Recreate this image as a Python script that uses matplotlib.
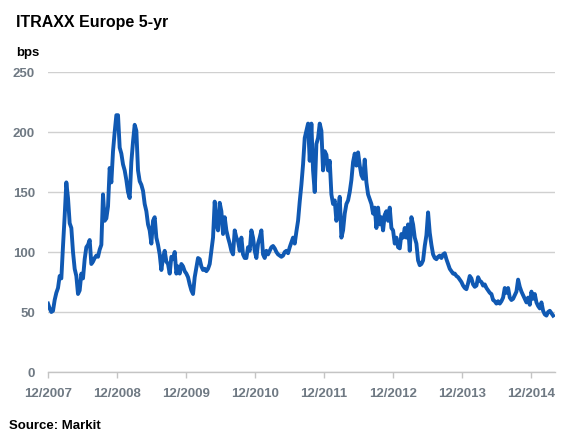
import numpy as np
import pandas as pd
import matplotlib
matplotlib.use('Agg')
from matplotlib import pyplot

# iTraxx Europe 5-yr, bps (roughly every 9 days)
spread_2007_2011 = [
    57, 53, 50, 51, 60, 66, 70, 80, 78, 105, 130, 158, 145, 124, 120, 100, 86, 80, 65, 68,
    82, 78, 94, 104, 106, 110, 90, 92, 95, 97, 96, 102, 106, 148, 126, 128, 138, 170, 158, 184,
    200, 214, 214, 187, 182, 173, 168, 160, 150, 145, 175, 192, 206, 201, 168, 159, 156, 151, 140, 134,
    123, 118, 107, 126, 129, 112, 106, 98, 85, 95, 101, 92, 90, 82, 96, 94, 100, 82, 88, 82,
    90, 88, 84, 82, 79, 73, 68, 65, 79, 87, 95, 94, 88, 85, 86, 84, 86, 90, 101, 112,
    142, 123, 118, 141, 134, 115, 129, 118, 112, 107, 101, 98, 118, 112, 109, 101, 112, 98, 95, 95,
    104, 101, 118, 112, 101, 95, 107, 112, 118, 98, 95, 101, 98, 101, 104, 105, 103, 100, 98, 97,
]
spread_2011_2015 = [
    96, 97, 100, 101, 99, 104, 108, 112, 107, 117, 126, 142, 156, 173, 195, 201, 207, 176, 207, 168,
    150, 190, 195, 207, 201, 168, 184, 181, 168, 176, 148, 140, 143, 126, 134, 146, 112, 118, 132, 140,
    143, 150, 160, 175, 182, 172, 183, 172, 164, 161, 177, 158, 148, 144, 140, 132, 137, 120, 137, 123,
    129, 118, 131, 134, 126, 137, 120, 118, 107, 112, 104, 103, 115, 112, 120, 112, 123, 101, 129, 123,
    112, 107, 93, 89, 90, 93, 105, 114, 133, 116, 106, 98, 95, 94, 96, 97, 95, 98, 99, 94,
    90, 86, 84, 82, 82, 80, 79, 77, 75, 72, 70, 69, 74, 80, 78, 73, 71, 72, 79, 76,
    75, 72, 73, 70, 68, 66, 65, 60, 59, 57, 59, 57, 59, 62, 70, 66, 70, 62, 60, 61,
    64, 67, 77, 71, 67, 64, 61, 58, 62, 56, 67, 61, 65, 58, 55, 53, 58, 51, 48, 47,
    50, 51, 49, 47,
]
tick_years = [2007, 2008, 2009, 2010, 2011, 2012, 2013, 2014]
tick_labels = ['12/%d' % y for y in tick_years]

values = spread_2007_2011 + spread_2011_2015
dates = pd.date_range('2007-12-01', '2015-03-27', periods=len(values))

gray = '#6f7983'
grid_gray = '#d0d0d0'
blue = '#1059b3'
font = 'Liberation Sans'

fig = pyplot.figure(figsize=(5.8, 4.35), dpi=100)
ax = fig.add_axes([48 / 580, 62 / 435, 507 / 580, 300 / 435])

ax.plot(dates, values, color=blue, lw=2.8, solid_joinstyle='round')

ax.set_ylim(0, 250)
ax.set_yticks(range(0, 251, 50))
ax.set_xlim(pd.Timestamp('2007-12-01'), pd.Timestamp('2015-04-06'))
ax.set_xticks([pd.Timestamp('%d-12-01' % y) for y in tick_years])
ax.set_xticklabels(tick_labels)

ax.yaxis.grid(True, color=grid_gray, lw=1)
ax.set_axisbelow(True)
for side in ['top', 'right', 'left']:
    ax.spines[side].set_visible(False)
ax.spines['bottom'].set_color('#c4c4c4')
ax.spines['bottom'].set_linewidth(1)

ax.tick_params(axis='y', length=0, pad=9.5, labelsize=9.5, labelcolor=gray)
ax.tick_params(axis='x', length=4, width=1, color='#c4c4c4', pad=7,
               labelsize=9.5, labelcolor=gray)
for lbl in ax.get_xticklabels() + ax.get_yticklabels():
    lbl.set_fontfamily(font)
    lbl.set_fontweight('bold')

fig.text(16 / 580, 1 - 26.7 / 435, 'ITRAXX Europe 5-yr', fontsize=11.5,
         fontweight='bold', family=font, va='baseline')
fig.text(16 / 580, 1 - 56 / 435, 'bps', fontsize=9.5,
         fontweight='bold', family=font, va='baseline')
fig.text(9 / 580, 1 - 429 / 435, 'Source: Markit', fontsize=9.5,
         fontweight='bold', family=font, va='baseline')

fig.savefig('out.png', dpi=100)
